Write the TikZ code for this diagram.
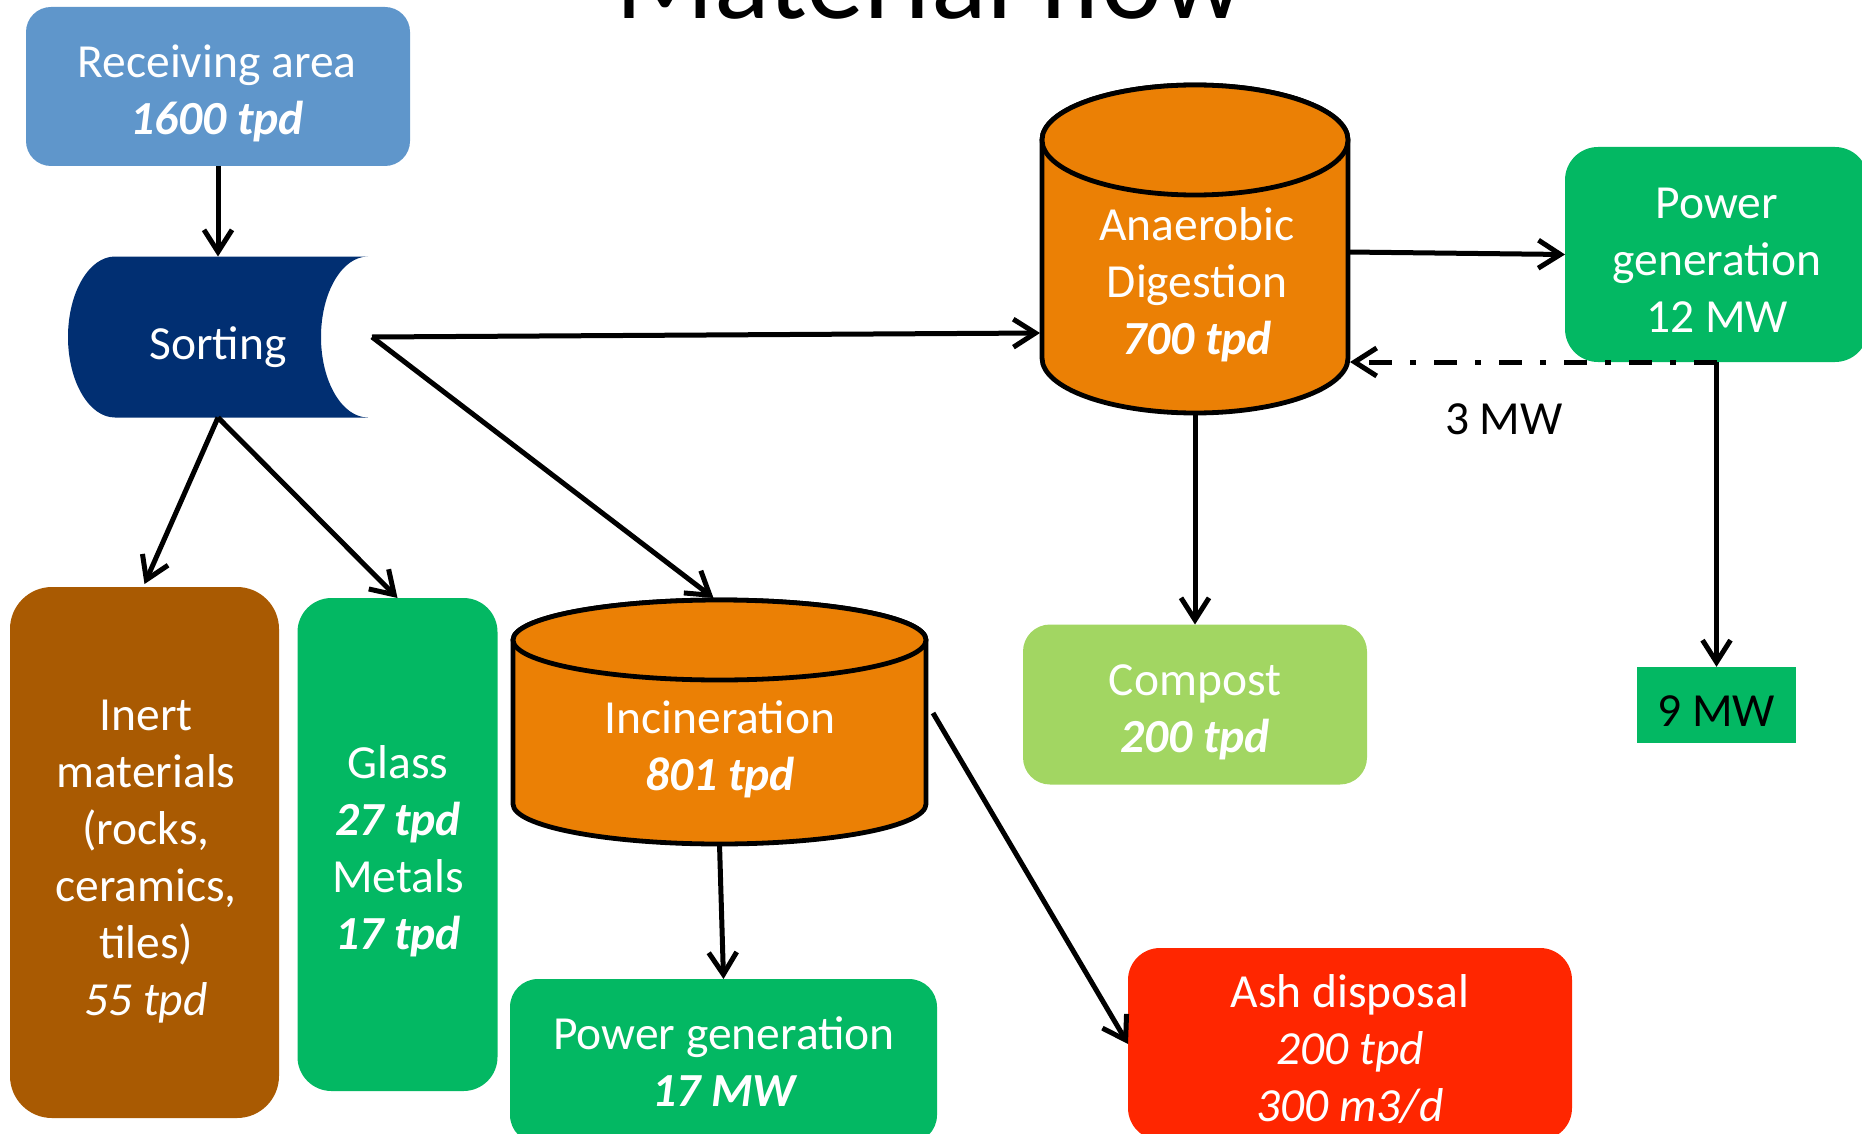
\documentclass[tikz,border=0pt]{standalone}
\usepackage{fontspec}
\setmainfont{Carlito}
\usetikzlibrary{arrows.meta}

\definecolor{recvblue}{HTML}{5F96CB}
\definecolor{sortblue}{HTML}{012F72}
\definecolor{cylorange}{HTML}{EB8005}
\definecolor{inertbrown}{HTML}{A95A02}
\definecolor{flowgreen}{HTML}{03B863}
\definecolor{compostgreen}{HTML}{A2D662}
\definecolor{ashred}{HTML}{FF2600}

\newcommand\flowfont{\fontsize{47.5}{57}\selectfont}
\newcommand\lnstrut{\rule[-12pt]{0pt}{51.5pt}}

\tikzset{
  flow/.style={line width=5pt, -{Straight Barb[length=22pt,width=28pt]}},
  dashflow/.style={flow, dash pattern=on 23pt off 18pt on 6pt off 18pt},
  panel/.style={inner sep=0pt, outer sep=0pt, rounded corners=#1},
  geom/.style={inner sep=0pt, outer sep=0pt, minimum width=#1},
  cyl/.style={fill=cylorange, draw=black, line width=4.8pt, line join=round},
  boxtxt/.style={text=white, align=center, font=\flowfont, inner sep=0pt},
  darktxt/.style={text=black, align=center, font=\flowfont, inner sep=0pt}
}

\begin{document}
\begin{tikzpicture}[x=1pt, y=1pt]
\useasboundingbox (0,0) rectangle (1862,-1134);
\clip (0,0) rectangle (1862,-1134);

% title, set partly above the page
\node[anchor=base, inner sep=0pt, font=\fontsize{116}{138}\selectfont] (title) at (930,-19) {Material flow};

% receiving area
\node[panel=25pt, fill=recvblue, minimum width=384pt, minimum height=159pt] (recv) at (218,-86.5) {};
\node[boxtxt] (recvtxt) at (217,-92.75) {\lnstrut Receiving area\\\lnstrut{\bfseries\itshape 1600 tpd}};

% sorting drum
\fill[sortblue] (368,-256.5) -- (115,-256.5)
  arc[start angle=90, end angle=270, x radius=47, y radius=80.5]
  -- (368,-417.5)
  arc[start angle=270, end angle=90, x radius=47, y radius=80.5] -- cycle;
\node[geom=300pt, minimum height=161pt] (sort) at (218,-337) {};
\node[boxtxt] (sorttxt) at (218,-345.25) {\lnstrut Sorting};

% inert materials
\node[panel=42pt, fill=inertbrown, minimum width=269pt, minimum height=531pt] (inert) at (144.5,-852.5) {};
\node[boxtxt] (inerttxt) at (146,-859.25) {\lnstrut Inert\\\lnstrut materials\\\lnstrut (rocks,\\\lnstrut ceramics,\\\lnstrut tiles)\\\lnstrut{\itshape 55 tpd}};

% glass and metals
\node[panel=34pt, fill=flowgreen, minimum width=200pt, minimum height=493pt] (glass) at (397.5,-844.5) {};
\node[boxtxt] (glasstxt) at (398,-850) {\lnstrut Glass\\\lnstrut{\bfseries\itshape 27 tpd}\\\lnstrut Metals\\\lnstrut{\bfseries\itshape 17 tpd}};

% incineration cylinder
\filldraw[cyl] (513,-640) -- (513,-804)
  arc[start angle=180, end angle=360, x radius=206.5, y radius=40]
  -- (926,-640)
  arc[start angle=0, end angle=180, x radius=206.5, y radius=40] -- cycle;
\filldraw[cyl] (719.5,-640) ellipse[x radius=206.5, y radius=40];
\node[geom=413pt, minimum height=244pt] (inc) at (719.5,-722) {};
\node[boxtxt] (inctxt) at (720,-747.75) {\lnstrut Incineration\\\lnstrut{\bfseries\itshape 801 tpd}};

% power generation from incineration
\node[panel=28pt, fill=flowgreen, minimum width=427pt, minimum height=164pt] (pginc) at (723.5,-1061) {};
\node[boxtxt] (pginctxt) at (724,-1064.25) {\lnstrut Power generation\\\lnstrut{\bfseries\itshape 17 MW}};

% ash disposal
\node[panel=32pt, fill=ashred, minimum width=444pt, minimum height=192pt] (ash) at (1350,-1044) {};
\node[boxtxt] (ashtxt) at (1350,-1050.75) {\lnstrut Ash disposal\\\lnstrut{\itshape 200 tpd}\\\lnstrut{\itshape 300 m3/d}};

% anaerobic digestion cylinder
\filldraw[cyl] (1042,-140) -- (1042,-358)
  arc[start angle=180, end angle=360, x radius=153, y radius=55]
  -- (1348,-140)
  arc[start angle=0, end angle=180, x radius=153, y radius=55] -- cycle;
\filldraw[cyl] (1195,-140) ellipse[x radius=153, y radius=55];
\node[geom=306pt, minimum height=328pt] (ad) at (1195,-249) {};
\node[boxtxt] (adtxt) at (1197,-283.25) {\lnstrut Anaerobic\\\lnstrut Digestion\\\lnstrut{\bfseries\itshape 700 tpd}};

% power generation from digestion
\node[panel=33pt, fill=flowgreen, minimum width=303pt, minimum height=215pt] (pgad) at (1716.5,-254.5) {};
\node[boxtxt] (pgadtxt) at (1717,-261.75) {\lnstrut Power\\\lnstrut generation\\\lnstrut 12 MW};

% compost
\node[panel=27pt, fill=compostgreen, minimum width=344pt, minimum height=160pt] (compost) at (1195,-704.5) {};
\node[boxtxt] (composttxt) at (1195,-710.25) {\lnstrut Compost\\\lnstrut{\bfseries\itshape 200 tpd}};

% exported power
\node[inner sep=0pt, fill=flowgreen, minimum width=159pt, minimum height=76pt] (ninemw) at (1716.5,-705) {};
\node[darktxt] (ninemwtxt) at (1716,-712.25) {\lnstrut 9 MW};

% label of the returned power
\node[darktxt] (threemw) at (1504,-420.25) {\lnstrut 3 MW};

% connectors
\draw[flow] (recv.south) -- (sort.north);
\draw[flow] (sort.south) -- ([yshift=3pt]inert.north);
\draw[flow] (sort.south) -- (glass.north);
\draw[flow] ([xshift=4pt]sort.east) -- ([xshift=-2pt,yshift=-84pt]ad.west);
\draw[flow] ([xshift=4pt]sort.east) -- ([xshift=-6pt,yshift=2pt]inc.north);
\draw[flow] (inc.south) -- (pginc.north);
\draw[flow] ([xshift=7pt,yshift=9pt]inc.east) -- (ash.west);
\draw[flow] ([yshift=-3pt]ad.east) -- (pgad.west);
\draw[flow] ([yshift=-2pt]ad.south) -- (compost.north);
\draw[flow] (pgad.south) -- (ninemw.north);
\draw[dashflow] (pgad.south) -- ([xshift=2pt]ad.east |- pgad.south);
\end{tikzpicture}
\end{document}
